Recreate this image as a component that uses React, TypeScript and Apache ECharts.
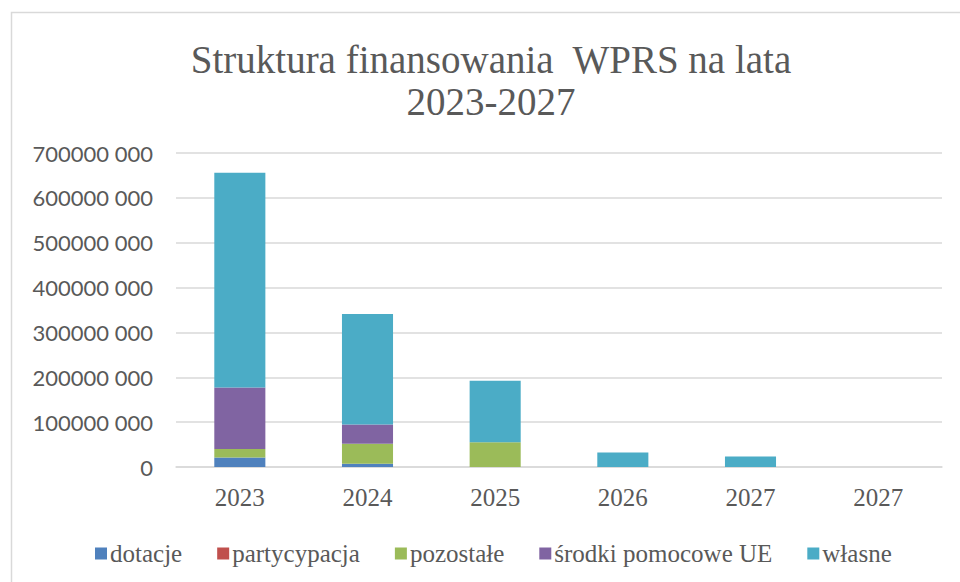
import React, { useEffect, useRef } from "react";
import * as echarts from "echarts";

const categories = ["2023", "2024", "2025", "2026", "2027", "2027"];
const dotacje = [21000000, 7000000, 0, 0, 0, 0];
const partycypacja = [0, 0, 0, 0, 0, 0];
const pozostale = [19000000, 45000000, 55000000, 0, 0, 0];
const srodkiUE = [137000000, 43000000, 0, 0, 0, 0];
const wlasne = [479000000, 246000000, 137000000, 32500000, 23500000, 0];

const seriesNames = ["dotacje", "partycypacja", "pozostałe", "środki pomocowe UE", "własne"];
const seriesValues = [dotacje, partycypacja, pozostale, srodkiUE, wlasne];
const colors = ["#4f81bd", "#c0504d", "#9bbb59", "#8064a2", "#4bacc6"];

const titleLines = ["Struktura finansowania  WPRS na lata", "2023-2027"];

function fmt(v: number): string {
  if (v === 0) return "0";
  const hi = Math.floor(v / 1000);
  const lo = String(v % 1000).padStart(3, "0");
  return hi + " " + lo;
}

export default function App() {
  const ref = useRef<HTMLDivElement>(null);
  useEffect(() => {
    document.body.style.margin = "0";
    if (!ref.current) return;
    const chart = echarts.init(ref.current, null, { renderer: "svg" });
    chart.setOption({
      animation: false,
      backgroundColor: "#ffffff",
      color: colors,
      graphic: [
        {
          type: "rect",
          shape: { x: 11.5, y: 12.5, width: 1000, height: 1000 },
          style: { fill: "none", stroke: "#d9d9d9", lineWidth: 1.5 },
          silent: true,
        },
        {
          type: "text",
          x: 491,
          y: 59,
          style: {
            text: titleLines[0],
            fill: "#595959",
            font: '39px "Liberation Serif"',
            textAlign: "center",
            textVerticalAlign: "middle",
          },
        },
        {
          type: "text",
          x: 491,
          y: 101,
          style: {
            text: titleLines[1],
            fill: "#595959",
            font: '39px "Liberation Serif"',
            textAlign: "center",
            textVerticalAlign: "middle",
          },
        },
      ],
      legend: {
        top: 536,
        left: 90,
        itemWidth: 12,
        itemHeight: 12,
        itemGap: 35,
        icon: "rect",
        data: seriesNames,
        textStyle: {
          fontFamily: "Liberation Serif",
          fontSize: 25,
          color: "#595959",
          padding: [0, 0, 0, -2],
        },
      },
      grid: { left: 176, right: 18, top: 153, bottom: 115, containLabel: false },
      xAxis: {
        type: "category",
        data: categories,
        axisLine: { lineStyle: { color: "#d9d9d9", width: 1.5 } },
        axisTick: { show: false },
        axisLabel: {
          fontFamily: "Liberation Serif",
          fontSize: 25,
          color: "#595959",
          margin: 18,
        },
      },
      yAxis: {
        type: "value",
        min: 0,
        max: 700000000,
        interval: 100000000,
        axisLine: { show: false },
        axisTick: { show: false },
        splitLine: { lineStyle: { color: "#d9d9d9", width: 1.5 } },
        axisLabel: {
          fontFamily: "Lato",
          fontSize: 22,
          color: "#595959",
          margin: 23,
          formatter: (v: number) => fmt(v),
        },
      },
      series: seriesNames.map((name, i) => ({
        name,
        type: "bar",
        stack: "total",
        data: seriesValues[i],
        barWidth: "40%",
        itemStyle: { color: colors[i] },
      })),
    });
    return () => chart.dispose();
  }, []);
  return <div ref={ref} style={{ width: 960, height: 582 }} />;
}
